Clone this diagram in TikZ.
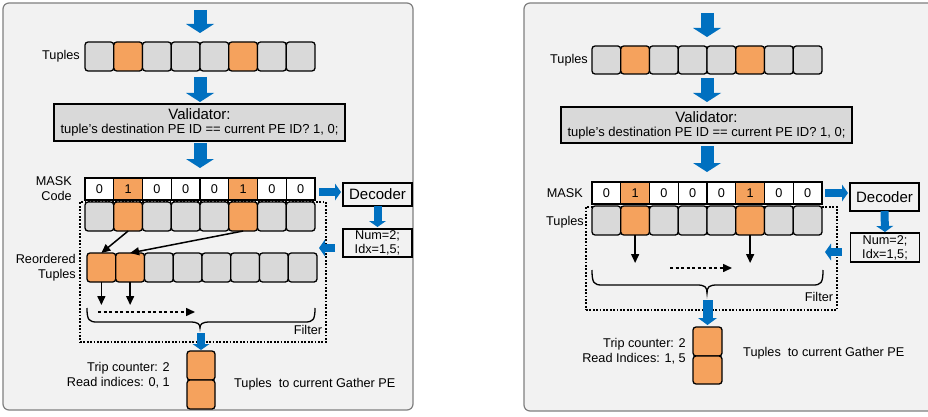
\documentclass[tikz,border=0pt]{standalone}
\usepackage{fontspec}
\setmainfont{Liberation Sans}
\usetikzlibrary{arrows.meta,calc}

\definecolor{panelbg}{HTML}{F2F2F2}
\definecolor{panelline}{HTML}{7F7F7F}
\definecolor{cellgray}{HTML}{D9D9D9}
\definecolor{cellorange}{HTML}{F5A25D}
\definecolor{flowblue}{HTML}{0070C0}

\newcommand\lblfont{\fontsize{12.7}{15}\selectfont}
\newcommand\bigfont{\fontsize{15}{17}\selectfont}

\tikzset{
  panel/.style={fill=panelbg, draw=panelline, line width=1.2pt, rounded corners=6pt},
  cell/.style={draw, line width=1.3pt, rounded corners=3pt, minimum width=28.75pt,
    minimum height=29pt, inner sep=0pt, outer sep=0pt, anchor=north west},
  maskcell/.style={draw, line width=1.1pt, minimum width=28.75pt, minimum height=22pt,
    inner sep=0pt, outer sep=0pt, anchor=north west, font=\lblfont},
  filterbox/.style={draw, line width=1.1pt, dash pattern=on 1.8pt off 1.6pt,
    inner sep=0pt, outer sep=0pt, anchor=north west},
  valbox/.style={draw, fill=cellgray, line width=1.3pt, align=center, inner sep=0pt,
    outer sep=0pt, font=\fontsize{13}{15}\selectfont},
  decbox/.style={draw, fill=panelbg, line width=1.3pt, inner sep=0pt, outer sep=0pt,
    minimum width=69pt, font=\bigfont},
  numbox/.style={draw, fill=panelbg, line width=1.3pt, inner sep=0pt, outer sep=0pt,
    minimum width=69pt, align=center, font=\fontsize{12.7}{14}\selectfont},
  lbl/.style={inner sep=0pt, font=\lblfont, align=right},
  bigflow/.style={draw=flowblue, line width=13pt,
    -{Triangle[width=28pt,length=9pt,line width=0pt]}},
  midflow/.style={draw=flowblue, line width=10pt,
    -{Triangle[width=19pt,length=7pt,line width=0pt]}},
  smallflow/.style={draw=flowblue, line width=8pt,
    -{Triangle[width=17pt,length=6pt,line width=0pt]}},
  blk/.style={draw=black, line width=1.5pt, -{Triangle[length=9pt,width=8pt]}},
  blkdash/.style={blk, dash pattern=on 3pt off 2.5pt},
  bracepath/.style={draw=black, line width=1.3pt}
}

\begin{document}
\begin{tikzpicture}[x=1pt, y=-1pt]
\useasboundingbox (0,0) rectangle (928,417);
\clip (0,0) rectangle (928,417);

% ---------------- left panel: filter with reordering ----------------
\draw[panel] (3,3) rectangle (413,410);

\node[filterbox, minimum width=246pt, minimum height=140pt] (Lfilter) at (80,202) {};

\foreach \i/\c in {1/cellgray,2/cellorange,3/cellgray,4/cellgray,
                   5/cellgray,6/cellorange,7/cellgray,8/cellgray}{
  \node[cell, fill=\c] (Lta\i) at ({85+28.75*(\i-1)},42) {};
  \node[cell, fill=\c] (Ltb\i) at ({85+28.75*(\i-1)},202) {};
}
\foreach \i/\c/\v in {1/white/0,2/cellorange/1,3/white/0,4/white/0,
                      5/white/0,6/cellorange/1,7/white/0,8/white/0}{
  \node[maskcell, fill=\c] (Lm\i) at ({85+28.75*(\i-1)},178) {\v};
}
\foreach \i/\c in {1/cellorange,2/cellorange,3/cellgray,4/cellgray,
                   5/cellgray,6/cellgray,7/cellgray,8/cellgray}{
  \node[cell, fill=\c] (Lr\i) at ({87+28.75*(\i-1)},253) {};
}

\node[valbox, minimum width=291pt, minimum height=37pt] (Lval) at (199.5,122.5)
  {{\bigfont Validator:}\\[-1pt] tuple’s destination PE ID == current PE ID? 1, 0;};
\node[decbox, minimum height=23pt] (Ldec) at (377.5,194.5) {Decoder};
\node[numbox, minimum height=28pt] (Lnum) at (377.5,243) {Num=2;\\Idx=1,5;};

\node[cell, fill=cellorange, minimum width=28pt] (Lo1) at (187,351) {};
\node[cell, fill=cellorange, minimum width=28pt] (Lo2) at (187,380) {};

% labels
\node[lbl, anchor=east] (LtupA) at (80,56) {Tuples};
\node[lbl, anchor=east] (Lmask) at (72,188.5) {MASK\\Code};
\node[lbl, anchor=east] (Lreo) at (76,267.5) {Reordered\\Tuples};
\node[lbl, anchor=east] (Ltrip) at (170,375.5) {Trip counter: 2\\Read indices: 0, 1};
\node[lbl, anchor=west] (Lout) at (234,384) {Tuples\ \ to current Gather PE};
\node[lbl] (Lfil) at (308,330) {Filter};

% blue flow arrows
\coordinate (Lin) at (200,10);
\draw[bigflow, shorten >=9pt] (Lin) -- (Lta4.north east);
\draw[bigflow, shorten <=6pt, shorten >=2pt] (Lta4.south east) -- (Lta4.south east |- Lval.north);
\draw[bigflow, shorten <=2pt, shorten >=10pt] (Lm4.north east |- Lval.south) -- (Lm4.north east);
\draw[smallflow, shorten <=4pt, shorten >=2pt] ($(Lm8.east)+(0,3)$) -- ($(Ldec.west)+(0,-2.5)$);
\draw[smallflow, shorten >=2pt] (Ldec.south) -- (Lnum.north);
\draw[smallflow] ($(Lnum.west)+(-8,5)$) -- ($(Lfilter.east |- Lnum.west)+(-7,5)$);

% reordering arrows
\draw[blk] (Ltb2.south) -- (Lr1.north);
\draw[blk] (Ltb6.south) -- (Lr2.north);
\coordinate (Ld1) at ($(Lr1.south)+(0,23)$);
\coordinate (Ld2) at ($(Lr2.south)+(0,23)$);
\draw[blk] (Lr1.south) -- (Ld1);
\draw[blk] (Lr2.south) -- (Ld2);
\coordinate (Lds) at (98,312);
\coordinate (Lde) at (195,312);
\draw[blkdash] (Lds) -- (Lde);

% brace
\draw[bracepath] (87,308) .. controls (87,320) and (89,322) .. (97,322) -- (190,322)
  .. controls (198,322) and (200,324) .. (200,328)
  .. controls (200,324) and (202,322) .. (210,322) -- (305,322)
  .. controls (313,322) and (315,320) .. (315,308);
\coordinate (Lbt) at (200,328);
\draw[smallflow, shorten <=5pt, shorten >=1pt] (Lo1.north |- Lbt) -- (Lo1.north);

% ---------------- right panel: filter without reordering ----------------
\draw[panel] (524,3) rectangle (940,411);

\node[filterbox, minimum width=251pt, minimum height=103pt] (Rfilter) at (586,207) {};

\foreach \i/\c in {1/cellgray,2/cellorange,3/cellgray,4/cellgray,
                   5/cellgray,6/cellorange,7/cellgray,8/cellgray}{
  \node[cell, fill=\c, minimum height=28pt] (Rta\i) at ({592+28.75*(\i-1)},46) {};
  \node[cell, fill=\c] (Rtb\i) at ({592+28.75*(\i-1)},206) {};
}
\foreach \i/\c/\v in {1/white/0,2/cellorange/1,3/white/0,4/white/0,
                      5/white/0,6/cellorange/1,7/white/0,8/white/0}{
  \node[maskcell, fill=\c] (Rm\i) at ({592+28.75*(\i-1)},182) {\v};
}

\node[valbox, minimum width=291pt, minimum height=36pt] (Rval) at (706.5,125)
  {{\bigfont Validator:}\\[-1pt] tuple’s destination PE ID == current PE ID? 1, 0;};
\node[decbox, minimum height=28pt] (Rdec) at (884.5,197) {Decoder};
\node[numbox, minimum height=29pt] (Rnum) at (885,247.5) {Num=2;\\Idx=1,5;};

\node[cell, fill=cellorange, minimum width=29pt] (Ro1) at (693,327) {};
\node[cell, fill=cellorange, minimum width=29pt, minimum height=28pt] (Ro2) at (693,356) {};

% labels
\node[lbl, anchor=east] (RtupA) at (588,60) {Tuples};
\node[lbl, anchor=east] (Rmask) at (583,193) {MASK};
\node[lbl, anchor=east] (RtupB) at (584,222) {Tuples};
\node[lbl, anchor=east] (Rtrip) at (686,351.5) {Trip counter: 2\\Read Indices: 1, 5};
\node[lbl, anchor=west] (Rout) at (743,353) {Tuples\ \ to current Gather PE};
\node[lbl] (Rfil) at (819,297) {Filter};

% blue flow arrows
\coordinate (Rin) at (707,13);
\draw[bigflow, shorten >=9pt] (Rin) -- (Rta4.north east);
\draw[bigflow, shorten <=4pt, shorten >=5pt] (Rta4.south east) -- (Rta4.south east |- Rval.north);
\draw[bigflow, shorten <=3pt, shorten >=10pt] (Rm4.north east |- Rval.south) -- (Rm4.north east);
\draw[smallflow, shorten <=3pt, shorten >=2pt] (Rm8.east) -- ($(Rdec.west)+(0,-4)$);
\draw[smallflow, shorten >=1pt] (Rdec.south) -- (Rnum.north);
\draw[smallflow] ($(Rnum.west)+(-9,4.5)$) -- ($(Rfilter.east |- Rnum.west)+(-12,4.5)$);

% selection arrows
\coordinate (Rd1) at ($(Rtb2.south)+(0,28)$);
\coordinate (Rd2) at ($(Rtb6.south)+(0,28)$);
\draw[blk] (Rtb2.south) -- (Rd1);
\draw[blk] (Rtb6.south) -- (Rd2);
\coordinate (Rds) at (670,268);
\coordinate (Rde) at (732,268);
\draw[blkdash] (Rds) -- (Rde);

% brace
\draw[bracepath] (592,270) .. controls (592,283) and (594,285) .. (602,285) -- (697,285)
  .. controls (705,285) and (707,287) .. (707,293)
  .. controls (707,287) and (709,285) .. (717,285) -- (813,285)
  .. controls (821,285) and (823,283) .. (823,270);
\coordinate (Rbt) at (707,293);
\draw[midflow, shorten <=7pt, shorten >=2pt] (Ro1.north |- Rbt) -- (Ro1.north);
\end{tikzpicture}
\end{document}
